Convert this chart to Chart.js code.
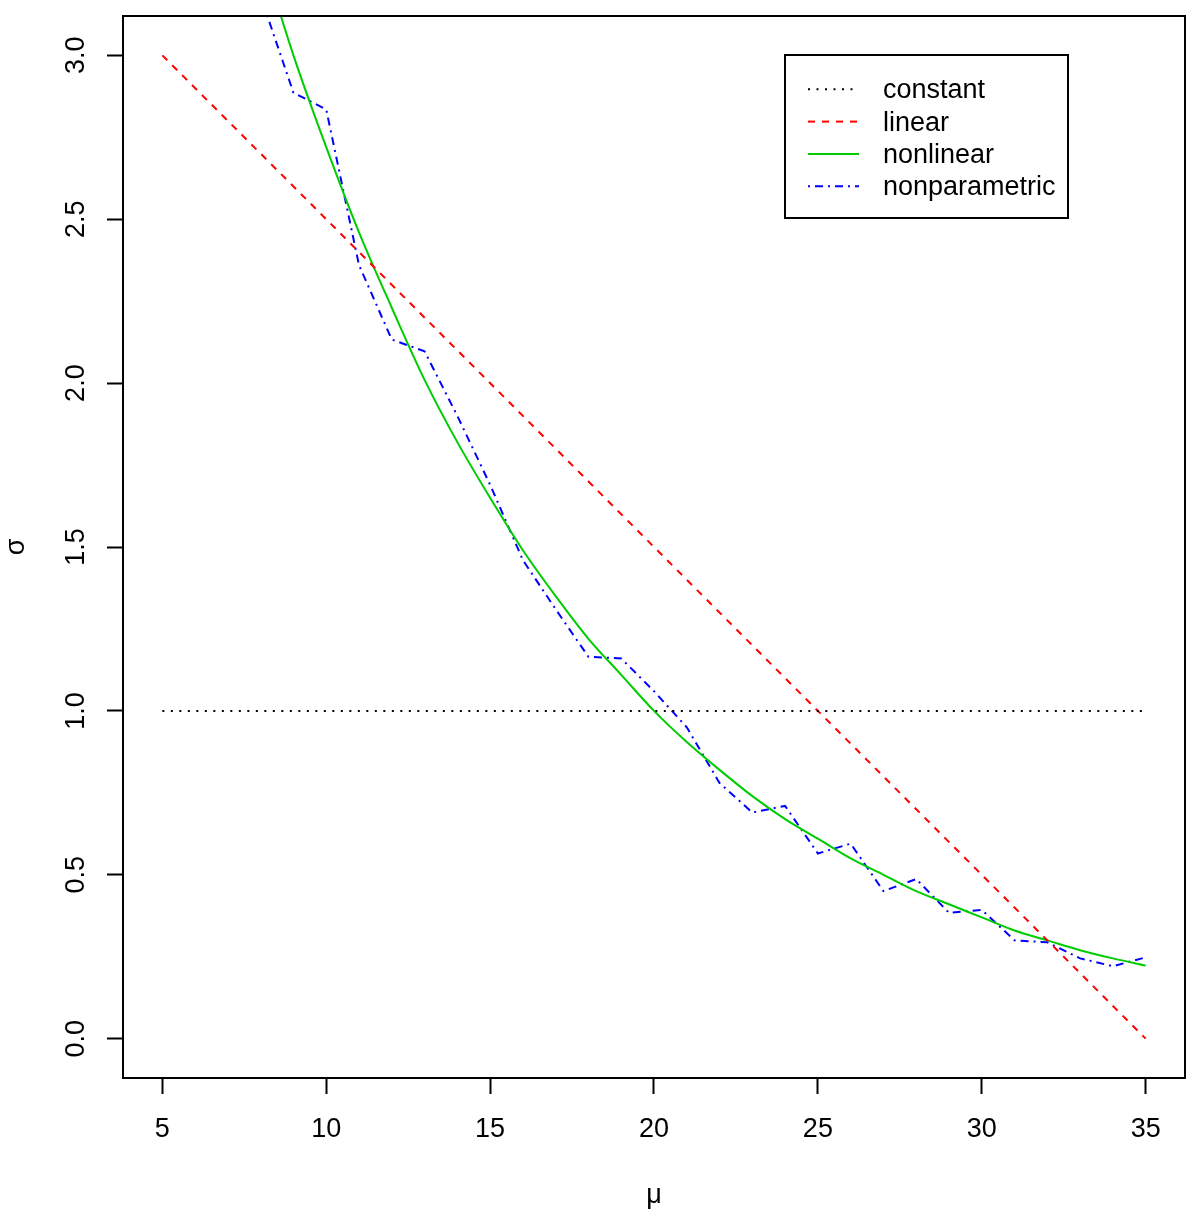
<!DOCTYPE html>
<html>
<head>
<meta charset="utf-8">
<script src="https://cdn.jsdelivr.net/npm/chart.js@4.4.1/dist/chart.umd.min.js"></script>
<style>
  html, body { margin: 0; padding: 0; background: #ffffff; }
  #c { display: block; }
</style>
</head>
<body>
<canvas id="c" width="1200" height="1230"></canvas>
<script>
// ---- data ----
const legendLabels = ["constant", "linear", "nonlinear", "nonparametric"];

const muConstant = [5, 35];
const sigmaConstant = [1, 1];

const muLinear = [5, 35];
const sigmaLinear = [3, 0];

const muNonlinear = [8, 9, 10, 11, 12, 13, 14, 15, 16, 17, 18, 19, 20, 21, 22, 23, 24, 25, 26, 27, 28, 29, 30, 31, 32, 33, 34, 35];
const sigmaNonlinear = [3.32, 3.00, 2.72, 2.46, 2.23, 2.01, 1.82, 1.65, 1.49, 1.35, 1.22, 1.11, 1.00, 0.905, 0.82, 0.74, 0.67, 0.61, 0.55, 0.50, 0.45, 0.41, 0.37, 0.33, 0.30, 0.27, 0.245, 0.223];

const muNonparametric = [8, 9, 10, 11, 12, 13, 14, 15, 16, 17, 18, 19, 20, 21, 22, 23, 24, 25, 26, 27, 28, 29, 30, 31, 32, 33, 34, 35];
const sigmaNonparametric = [3.18, 2.886, 2.835, 2.36, 2.133, 2.097, 1.90, 1.69, 1.46, 1.31, 1.165, 1.16, 1.06, 0.95, 0.78, 0.69, 0.71, 0.565, 0.595, 0.45, 0.487, 0.384, 0.393, 0.30, 0.294, 0.245, 0.221, 0.248];

const xTickValues = [5, 10, 15, 20, 25, 30, 35];
const xTickLabels = ["5", "10", "15", "20", "25", "30", "35"];
const yTickValues = [0, 0.5, 1, 1.5, 2, 2.5, 3];
const yTickLabels = ["0.0", "0.5", "1.0", "1.5", "2.0", "2.5", "3.0"];

const xTitle = "μ";
const yTitle = "σ";

// ---- helpers ----
function pts(xs, ys) { return xs.map((x, i) => ({ x: x, y: ys[i] })); }

Chart.defaults.font.family = "'Liberation Sans', Arial, Helvetica, sans-serif";
Chart.defaults.color = "#000000";

const FONT_SIZE = 27;

const boxPlugin = {
  id: 'rbox',
  afterDatasetsDraw(chart) {
    const { ctx, chartArea: a } = chart;
    ctx.save();
    ctx.strokeStyle = '#000';
    ctx.lineWidth = 2;
    ctx.setLineDash([]);
    ctx.strokeRect(a.left, a.top, a.right - a.left, a.bottom - a.top);
    ctx.restore();
  }
};

const legendPlugin = {
  id: 'rlegend',
  afterDatasetsDraw(chart) {
    const { ctx, chartArea: a } = chart;
    const boxRight = a.right - 117;
    const boxLeft = boxRight - 283;
    const boxTop = a.top + 39;
    const boxBottom = boxTop + 163;
    ctx.save();
    ctx.fillStyle = '#fff';
    ctx.fillRect(boxLeft, boxTop, boxRight - boxLeft, boxBottom - boxTop);
    ctx.strokeStyle = '#000';
    ctx.lineWidth = 2;
    ctx.setLineDash([]);
    ctx.strokeRect(boxLeft, boxTop, boxRight - boxLeft, boxBottom - boxTop);
    const rowStart = boxTop + 34.3;
    const rowGap = 32.3;
    chart.data.datasets.forEach((ds, i) => {
      const y = rowStart + i * rowGap;
      ctx.strokeStyle = ds.borderColor;
      ctx.lineWidth = ds.borderWidth;
      ctx.setLineDash(ds.borderDash || []);
      ctx.beginPath();
      ctx.moveTo(boxLeft + 23, y);
      ctx.lineTo(boxLeft + 74, y);
      ctx.stroke();
      ctx.setLineDash([]);
      ctx.fillStyle = '#000';
      ctx.font = FONT_SIZE + "px 'Liberation Sans', Arial, sans-serif";
      ctx.textAlign = 'left';
      ctx.textBaseline = 'alphabetic';
      ctx.fillText(ds.label, boxLeft + 98, y + 9);
    });
    ctx.restore();
  }
};

new Chart(document.getElementById('c'), {
  type: 'scatter',
  data: {
    datasets: [
      {
        label: legendLabels[0],
        data: pts(muConstant, sigmaConstant),
        showLine: true, pointRadius: 0,
        borderColor: '#000000', borderWidth: 2, borderDash: [2, 6.5],
        clip: 0
      },
      {
        label: legendLabels[1],
        data: pts(muLinear, sigmaLinear),
        showLine: true, pointRadius: 0,
        borderColor: '#FF0000', borderWidth: 2, borderDash: [7, 7],
        clip: 0
      },
      {
        label: legendLabels[2],
        data: pts(muNonlinear, sigmaNonlinear),
        showLine: true, pointRadius: 0,
        borderColor: '#00CD00', borderWidth: 2, cubicInterpolationMode: 'monotone',
        clip: 0
      },
      {
        label: legendLabels[3],
        data: pts(muNonparametric, sigmaNonparametric),
        showLine: true, pointRadius: 0,
        borderColor: '#0000FF', borderWidth: 2, borderDash: [2, 5, 8, 5],
        clip: 0
      }
    ]
  },
  options: {
    responsive: false,
    animation: false,
    devicePixelRatio: 1,
    layout: { padding: { left: 0, right: 15, top: 16, bottom: 0 } },
    plugins: {
      legend: { display: false },
      tooltip: { enabled: false }
    },
    scales: {
      x: {
        type: 'linear',
        min: 3.8, max: 36.2,
        afterBuildTicks(scale) { scale.ticks = xTickValues.map(v => ({ value: v })); },
        afterFit(scale) { scale.height = 152; scale.paddingLeft = 0; scale.paddingRight = 0; },
        ticks: {
          font: { size: FONT_SIZE },
          color: '#000',
          padding: 19,
          maxRotation: 0,
          callback(v) { const i = xTickValues.indexOf(v); return i >= 0 ? xTickLabels[i] : ''; }
        },
        grid: { drawOnChartArea: false, drawTicks: true, tickLength: 16, tickColor: '#000', tickWidth: 2 },
        border: { display: false },
        title: { display: true, text: xTitle, font: { size: FONT_SIZE }, color: '#000', padding: { top: 0, bottom: 18 } }
      },
      y: {
        type: 'linear',
        min: -0.12, max: 3.12,
        afterBuildTicks(scale) { scale.ticks = yTickValues.map(v => ({ value: v })); },
        afterFit(scale) { scale.width = 123; scale.paddingTop = 0; scale.paddingBottom = 0; },
        ticks: {
          font: { size: FONT_SIZE },
          color: '#000',
          padding: 12,
          minRotation: 90, maxRotation: 90,
          crossAlign: 'center',
          callback(v) { const i = yTickValues.indexOf(v); return i >= 0 ? yTickLabels[i] : ''; }
        },
        grid: { drawOnChartArea: false, drawTicks: true, tickLength: 16, tickColor: '#000', tickWidth: 2 },
        border: { display: false },
        title: { display: true, text: yTitle, font: { size: FONT_SIZE }, color: '#000', padding: { top: 0, bottom: 0 } }
      }
    }
  },
  plugins: [boxPlugin, legendPlugin]
});
</script>
</body>
</html>
